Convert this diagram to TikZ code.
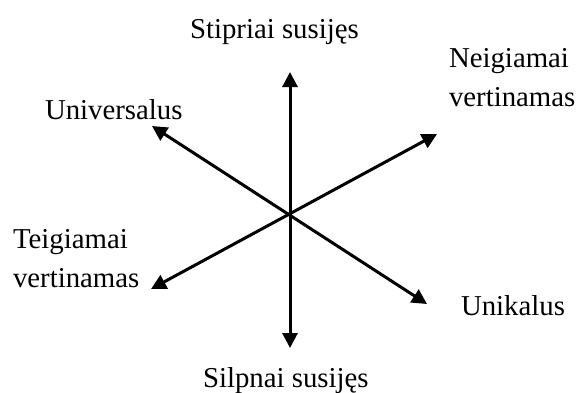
\documentclass[tikz,border=0pt]{standalone}
\usepackage{fontspec}
\setmainfont{Liberation Serif}
\usetikzlibrary{arrows.meta}
\begin{document}
\begin{tikzpicture}[x=1pt,y=-1pt,
  lbl/.style={inner sep=0pt,outer sep=0pt,font=\fontsize{28.8}{38.5}\selectfont,text=black},
  axis/.style={line width=3pt,{Triangle[length=15pt,width=15pt]}-{Triangle[length=15pt,width=15pt]}}]
\useasboundingbox (0,0) rectangle (577,392);
% arrow tips
\coordinate (top) at (290,72);
\coordinate (bot) at (290,348);
\coordinate (ul) at (152,126);
\coordinate (lr) at (427,304);
\coordinate (ll) at (151,289);
\coordinate (ur) at (437,134);
\draw[axis] (bot) -- (top);
\draw[axis] (ul) -- (lr);
\draw[axis] (ll) -- (ur);
% labels
\node[lbl,anchor=base west] (strong) at (190,38) {Stipriai susijęs};
\node[lbl,anchor=base west] (univ) at (45,119) {Universalus};
\node[lbl,anchor=base west,align=left] (neg) at (449,106) {Neigiamai\\vertinamas};
\node[lbl,anchor=base west,align=left] (pos) at (13,287) {Teigiamai\\vertinamas};
\node[lbl,anchor=base west] (uni) at (461,315) {Unikalus};
\node[lbl,anchor=base west] (weak) at (203,387) {Silpnai susijęs};
\end{tikzpicture}
\end{document}
